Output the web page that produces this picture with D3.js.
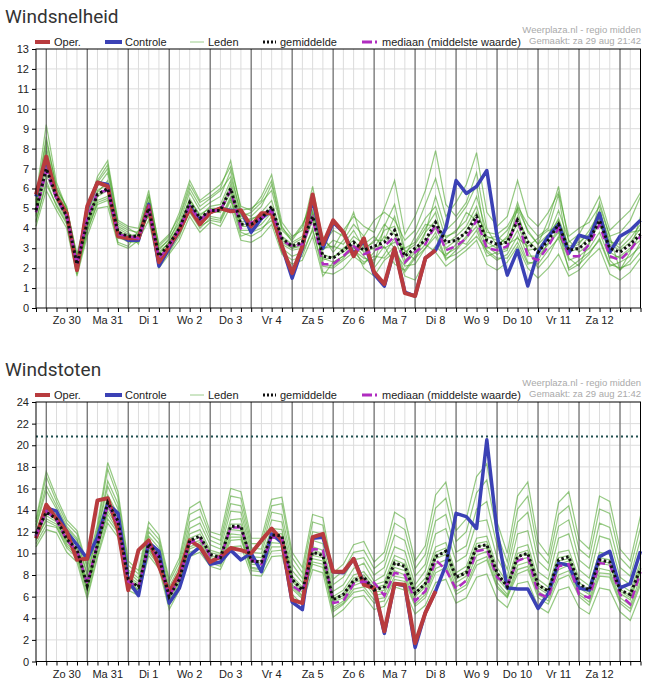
<!DOCTYPE html>
<html><head><meta charset="utf-8">
<script src="https://cdn.jsdelivr.net/npm/d3@7"></script>
<style>body{margin:0;background:#fff;font-family:Arial,"Liberation Sans",sans-serif;}</style>
</head><body><svg id="c" width="651" height="686"></svg>
<script>
// day labels (each day starts at 00:00, data every 6 hours from Za 29 18:00)
var dayLabels = ["Zo 30","Ma 31","Di 1","Wo 2","Do 3","Vr 4","Za 5","Zo 6","Ma 7","Di 8","Wo 9","Do 10","Vr 11","Za 12"];

// Windsnelheid (Bft)
var speedOper = [5.7,7.6,5.6,4.75,1.9,5.1,6.3,6.1,3.6,3.5,3.5,5.1,2.3,3.1,3.9,5.0,4.2,4.8,5.0,4.85,4.9,4.1,4.75,4.75,3.1,1.75,3.1,5.7,3.2,4.4,3.8,2.6,3.5,1.8,1.2,3.0,0.75,0.6,2.5,2.9];
var speedControl = [5.6,7.5,5.6,4.7,2.0,5.0,6.3,6.2,3.7,3.4,3.4,5.2,2.1,3.0,3.9,5.1,4.4,4.8,5.0,4.9,4.9,3.8,4.5,4.9,3.1,1.5,3.0,5.5,3.0,4.3,3.8,2.7,3.4,1.7,1.1,3.0,0.8,0.6,2.5,2.9,4.0,6.4,5.75,6.1,6.9,3.6,1.65,2.9,1.1,2.8,3.6,4.2,2.75,3.65,3.5,4.75,2.8,3.6,3.9,4.4];
var speedMean = [4.9,7.0,5.6,4.6,2.2,4.3,5.7,6.0,3.8,3.6,3.6,5.0,2.6,3.2,4.0,5.3,4.5,4.9,4.9,6.0,4.2,4.2,4.5,5.1,3.5,3.1,3.3,4.6,2.6,2.5,2.9,3.3,2.9,3.1,3.3,3.9,2.6,3.0,3.4,4.3,3.3,3.4,3.8,4.6,3.4,3.2,3.3,4.4,3.3,2.8,3.4,4.2,2.9,3.0,3.4,4.4,3.0,2.8,3.2,3.7];
var speedMedian = [4.8,6.9,5.5,4.6,2.2,4.5,5.8,5.9,3.7,3.6,3.5,5.0,2.5,3.1,4.0,5.1,4.4,4.9,4.9,5.9,4.0,4.3,4.5,4.9,3.4,3.1,3.2,4.5,2.2,2.2,2.6,3.1,2.7,2.9,3.1,3.6,2.3,2.8,3.2,4.2,2.9,3.1,3.5,4.4,3.0,2.9,3.1,4.5,2.6,2.4,3.1,4.0,2.6,2.6,3.2,4.2,2.6,2.4,2.9,3.6];
var speedMembers = [
[5.2,8.1,5.9,4.9,2.4,4.6,6.1,6.8,4.1,3.8,3.2,5.4,2.9,3.5,4.3,5.8,4.9,5.3,5.6,6.9,4.6,4.8,5.3,5.9,3.9,3.4,4.1,5.6,3.2,3.9,3.6,4.8,3.1,2.2,4.1,5.2,2.9,2.4,3.8,5.6,3.9,4.4,5.1,6.2,3.1,2.7,2.9,5.1,4.2,3.6,4.0,5.7,2.5,2.1,3.3,5.3,3.6,1.9,2.8,4.6],
[4.3,6.4,5.1,4.2,1.7,3.9,5.2,5.4,3.3,3.1,3.9,4.6,2.2,2.8,3.6,4.9,4.1,4.4,4.3,5.4,3.6,3.8,4.0,4.4,3.0,2.6,2.8,3.9,2.1,2.0,2.4,2.8,2.3,2.6,2.5,3.1,1.8,2.5,3.0,3.6,2.4,2.9,3.5,4.1,2.8,2.4,2.7,3.6,2.3,2.2,2.9,3.5,2.0,2.4,2.8,3.4,2.1,2.3,2.6,3.1],
[5.6,9.2,6.3,5.0,2.6,4.8,6.6,7.4,4.4,4.1,4.0,5.9,3.1,3.6,4.8,6.4,5.4,5.8,6.2,7.1,5.1,4.9,5.6,6.7,4.3,3.6,3.9,6.1,3.4,3.0,3.9,4.6,4.1,3.8,5.0,6.4,3.7,4.6,5.9,7.9,5.2,4.6,5.3,6.8,4.0,3.1,3.6,5.3,3.8,3.2,4.4,6.1,3.3,3.7,4.6,5.6,3.9,4.4,4.9,5.8],
[4.6,6.7,5.4,4.4,1.9,4.0,5.4,5.6,3.5,3.4,3.5,4.7,2.4,3.0,3.8,5.0,4.2,4.6,4.5,5.6,3.8,3.6,3.9,4.6,2.8,2.4,2.6,4.0,1.8,1.7,2.0,2.6,2.2,2.8,3.6,3.0,1.6,1.4,2.4,3.1,2.6,3.2,3.9,4.8,3.6,3.4,3.9,4.9,2.9,2.0,2.6,3.6,2.8,3.0,3.6,4.6,2.4,1.9,2.4,3.3],
[5.0,7.6,5.8,4.8,2.3,4.4,5.9,6.2,3.9,3.6,3.7,5.2,2.7,3.3,4.1,5.5,4.6,5.1,5.2,6.4,4.5,4.4,4.8,5.4,3.6,3.2,3.5,4.9,2.9,3.4,3.2,3.9,3.0,3.3,4.2,3.7,2.6,3.6,4.5,5.1,3.5,3.9,4.4,5.6,3.8,3.7,4.1,5.0,3.9,3.2,3.7,4.4,3.0,3.2,3.9,4.8,3.4,3.0,3.5,4.2],
[4.1,5.9,4.9,4.0,1.6,3.6,5.0,5.1,3.2,3.0,3.4,4.4,2.0,2.7,3.4,4.6,3.8,4.3,4.1,5.1,3.4,3.3,3.6,4.2,2.7,2.2,2.4,3.6,1.6,2.3,2.6,2.9,2.5,2.4,3.1,2.2,1.9,2.6,3.2,2.8,2.1,2.5,2.9,3.4,2.2,1.9,2.3,3.1,2.0,1.5,2.0,2.7,1.6,1.9,2.5,3.0,1.7,1.4,1.8,2.5],
[5.4,8.6,6.0,5.1,2.5,4.7,6.3,7.0,4.2,3.9,3.8,5.6,3.0,3.4,4.5,6.0,5.1,5.5,5.9,6.6,4.8,4.6,5.1,6.2,4.0,3.5,4.2,5.2,3.6,2.8,3.4,4.2,3.6,4.4,4.8,4.4,3.4,3.9,5.2,6.5,4.6,5.3,6.2,7.8,4.8,4.1,4.6,6.4,4.6,4.1,4.8,5.8,3.6,4.0,4.3,5.1,3.6,3.8,4.4,5.6],
[4.4,6.2,5.2,4.3,1.8,3.8,5.3,5.5,3.6,3.3,3.3,4.8,2.3,2.9,3.7,4.8,4.0,4.5,4.4,5.5,3.9,3.9,4.2,4.8,3.2,2.9,3.0,4.4,2.4,2.6,2.8,3.2,2.6,2.0,2.7,3.5,2.2,2.8,3.4,4.0,3.0,3.4,3.2,3.9,2.6,2.8,3.0,3.9,2.6,2.6,3.2,3.8,2.4,2.6,3.0,3.8,2.5,2.6,3.0,3.4],
[5.1,7.9,5.7,4.7,2.1,4.2,5.8,6.4,4.0,3.7,3.6,5.3,2.8,3.3,4.2,5.4,4.7,5.0,5.0,6.2,4.3,4.5,4.6,5.0,3.4,3.0,3.1,4.7,2.7,2.5,3.0,3.4,2.8,3.0,3.9,4.1,2.4,2.9,3.8,4.4,3.2,3.6,4.1,5.1,3.3,3.0,3.4,4.6,3.4,2.9,3.5,4.5,3.1,3.3,3.7,4.9,3.2,2.9,3.3,4.0],
[4.7,7.1,5.5,4.5,2.0,4.1,5.6,5.9,3.7,3.5,3.6,5.0,2.5,3.1,3.9,5.2,4.4,4.8,4.8,5.8,4.1,4.1,4.4,5.1,3.3,3.0,3.2,4.5,2.5,2.3,2.6,3.0,2.9,3.4,3.4,4.6,2.8,3.2,4.0,4.8,2.7,3.0,3.6,4.4,3.0,3.2,3.5,4.2,2.9,3.0,3.6,4.9,3.4,2.8,3.2,4.5,2.8,2.5,2.9,3.7],
[4.9,7.3,5.6,4.6,2.2,4.3,5.7,6.0,3.8,3.6,3.5,5.1,2.6,3.2,4.0,5.3,4.5,4.9,4.9,6.0,4.2,4.2,4.5,5.0,3.5,3.1,3.3,4.8,3.0,3.1,2.9,3.6,3.2,3.6,3.0,3.3,3.0,3.3,4.2,4.1,3.6,3.8,4.8,4.4,3.5,3.6,3.2,3.5,3.1,3.5,3.9,4.0,2.7,3.5,3.6,4.1,3.3,3.2,3.8,3.9],
[5.3,8.4,6.1,5.0,2.7,4.9,6.4,7.2,4.3,4.0,3.7,5.7,3.2,3.7,4.6,6.2,5.3,5.6,6.0,7.4,4.9,5.0,5.4,6.4,4.1,3.3,3.6,5.4,2.2,2.1,2.5,3.1,2.0,1.6,2.4,2.8,2.1,2.2,3.0,3.8,2.5,2.7,3.1,3.6,2.9,2.5,2.5,3.3,2.2,2.4,3.3,3.9,1.9,2.2,2.7,3.5,2.2,2.0,2.2,2.8]
];

// Windstoten (m/s)
var gustOper = [11.4,14.5,13.2,12.0,9.4,9.5,14.9,15.1,12.2,6.6,10.3,11.2,8.8,6.4,8.2,11.2,10.6,9.2,9.7,10.5,10.3,10.0,11.2,12.3,11.2,5.7,5.4,11.5,11.8,8.3,8.3,9.5,7.1,6.8,2.8,7.2,7.1,1.7,4.5,6.5];
var gustControl = [11.6,14.2,13.9,12.0,10.8,9.5,11.5,14.6,13.7,7.5,6.1,11.0,10.2,5.4,6.8,9.8,10.6,9.0,9.2,10.3,9.4,10.0,8.3,11.8,11.0,5.5,4.8,11.4,11.5,8.3,8.2,9.5,7.3,6.8,2.6,7.2,7.0,1.3,4.5,6.5,8.9,13.7,13.4,12.3,20.5,12.0,6.8,6.7,6.7,4.9,6.3,9.1,8.9,6.8,6.6,9.7,10.2,6.8,7.2,10.2];
var gustMean = [11.8,13.8,13.2,11.3,10.4,7.0,10.8,14.7,13.0,7.6,6.9,10.9,9.7,6.0,7.6,11.2,11.6,9.9,9.6,12.5,12.5,9.3,9.2,11.7,11.6,7.6,6.6,10.1,9.8,5.7,6.2,7.5,7.8,6.6,6.9,9.1,8.8,6.3,7.2,9.7,10.2,7.8,8.2,10.6,10.8,8.2,6.9,9.7,10.0,7.1,6.5,9.4,9.7,7.2,6.6,9.4,9.2,6.6,6.2,8.6];
var gustMedian = [11.6,13.9,13.1,11.2,10.3,7.2,10.9,14.5,12.8,7.4,6.9,10.8,9.6,6.0,7.7,11.0,11.4,9.8,9.6,12.4,12.4,9.4,9.0,11.5,11.4,7.0,6.4,10.4,10.3,5.4,5.6,7.2,7.4,7.3,6.1,8.2,8.0,5.6,6.5,9.4,8.5,6.7,7.5,10.2,10.4,7.8,7.1,9.3,9.7,6.3,5.9,8.8,9.0,6.2,5.9,9.1,9.0,6.2,5.3,8.3];
var gustMax = 20.8;
var gustMembers = [
[12.4,15.8,14.1,12.3,11.2,7.9,11.8,16.2,14.1,8.3,7.4,11.6,10.5,6.6,8.4,12.3,12.8,10.8,10.4,13.9,13.8,10.1,10.0,13.1,12.9,8.4,7.3,11.2,10.9,6.5,7.1,8.6,9.1,7.4,8.0,10.6,10.2,7.1,8.4,11.8,12.3,9.2,9.8,12.9,13.1,9.6,7.8,11.8,12.1,8.3,7.6,11.4,11.8,8.5,7.7,11.6,11.3,7.8,7.1,10.2],
[10.9,12.6,12.4,10.5,9.6,6.1,9.9,13.2,11.9,6.9,6.4,10.1,8.9,5.2,6.9,10.1,10.5,9.1,8.8,11.2,11.3,8.4,8.3,10.2,10.3,6.7,5.8,9.0,8.7,4.6,5.3,6.4,6.6,5.4,5.6,7.6,7.4,5.1,5.9,8.2,8.7,6.2,6.8,8.9,9.4,6.8,5.9,8.1,8.5,5.9,5.3,7.6,8.0,6.0,5.2,7.9,7.8,5.4,4.6,7.1],
[12.9,17.1,14.8,12.8,11.8,8.6,12.3,17.8,15.2,8.9,8.1,12.4,11.3,7.3,9.2,13.6,14.1,11.6,11.2,15.3,15.1,10.9,10.9,14.4,14.6,9.6,8.2,12.9,12.6,7.6,8.4,10.1,10.3,8.6,9.4,12.8,12.2,8.6,9.9,14.2,15.1,11.1,12.0,15.6,16.8,11.8,9.2,14.1,15.3,10.2,9.1,13.6,14.4,10.4,9.6,14.1,13.7,9.6,8.6,12.4],
[11.2,13.2,12.7,10.9,10.0,6.5,10.3,13.9,12.4,7.1,6.6,10.4,9.2,5.6,7.2,10.6,11.0,9.4,9.1,11.8,11.7,8.7,8.6,11.0,10.9,7.1,6.1,9.5,9.3,5.0,5.6,7.0,7.4,6.1,6.3,8.4,8.0,5.6,6.5,9.0,9.4,6.9,7.5,9.8,10.2,7.3,6.2,8.9,9.2,6.5,5.9,8.5,8.9,6.4,5.8,8.6,8.4,5.9,5.2,7.8],
[12.1,14.6,13.6,11.7,10.8,7.4,11.3,15.4,13.6,7.9,7.2,11.2,10.1,6.3,8.0,11.8,12.2,10.3,10.0,13.1,13.2,9.7,9.6,12.3,12.2,7.9,6.9,10.6,10.3,6.0,6.6,8.0,8.3,7.1,7.4,9.8,9.4,6.7,7.7,10.6,11.0,8.2,8.8,11.4,11.6,8.7,7.3,10.5,10.8,7.6,6.9,10.1,10.3,7.7,7.0,10.1,9.9,7.1,6.5,9.2],
[10.6,12.2,11.9,10.1,9.2,5.8,9.6,12.8,11.5,6.6,6.1,9.8,8.6,4.8,6.6,9.7,10.1,8.8,8.5,10.6,10.7,8.0,7.9,9.7,9.8,6.2,5.3,8.5,8.2,4.1,4.8,5.9,6.1,4.8,5.1,6.9,6.6,4.4,5.2,7.3,7.6,5.4,5.9,7.8,8.1,5.8,5.0,7.2,7.4,5.1,4.5,6.6,6.9,5.0,4.4,6.8,6.6,4.6,3.8,6.2],
[12.6,16.3,14.4,12.5,11.4,8.1,12.0,16.7,14.6,8.5,7.7,12.0,10.9,6.9,8.8,12.9,13.4,11.2,10.8,14.6,14.4,10.5,10.4,13.8,13.6,9.0,7.7,12.0,11.8,7.1,7.8,9.4,9.6,8.0,8.7,11.7,11.2,7.9,9.0,13.0,13.6,10.1,10.7,14.1,14.8,10.7,8.5,12.9,13.8,9.3,8.4,12.5,13.1,9.4,8.6,12.8,12.4,8.7,7.9,11.3],
[11.5,13.5,12.9,11.1,10.1,6.8,10.6,14.2,12.7,7.3,6.7,10.6,9.4,5.8,7.4,10.9,11.2,9.6,9.4,12.2,12.1,9.0,8.9,11.4,11.3,7.4,6.4,9.8,9.6,5.5,5.9,7.3,7.6,6.4,6.6,8.7,8.4,6.0,6.9,9.5,9.9,7.3,7.9,10.3,10.5,7.7,6.6,9.4,9.6,6.8,6.2,9.0,9.3,6.8,6.2,9.1,8.9,6.3,5.7,8.3],
[11.9,14.1,13.3,11.4,10.5,7.1,11.0,14.8,13.2,7.7,7.0,11.0,9.8,6.1,7.8,11.4,11.8,10.1,9.8,12.7,12.7,9.4,9.3,11.9,11.8,7.7,6.7,10.3,10.0,5.8,6.3,7.7,8.0,6.8,7.1,9.4,9.0,6.4,7.3,10.1,10.5,7.9,8.4,10.9,11.1,8.3,7.0,10.0,10.3,7.2,6.6,9.6,9.8,7.3,6.6,9.6,9.4,6.7,6.1,8.8],
[11.3,13.0,12.5,10.7,9.8,6.6,10.5,13.6,12.1,7.0,6.6,10.3,9.1,5.5,7.0,10.4,10.8,9.3,9.0,11.5,11.5,8.6,8.5,10.6,10.6,6.9,6.0,9.2,9.0,4.8,5.4,6.7,6.9,5.7,5.9,7.9,7.7,5.3,6.2,8.6,9.0,6.5,7.1,9.3,9.7,7.0,6.0,8.5,8.8,6.2,5.6,8.0,8.4,6.2,5.5,8.2,8.1,5.6,4.9,7.4],
[13.2,17.6,15.2,13.1,12.1,8.9,12.7,18.4,15.7,9.3,8.4,12.9,11.7,7.6,9.6,14.2,14.8,12.0,11.7,16.0,15.7,11.4,11.4,15.0,15.2,10.1,8.7,13.6,13.3,8.2,9.0,10.8,11.1,9.2,10.1,13.8,13.2,9.3,10.7,15.4,16.6,12.1,13.2,17.1,18.3,12.9,10.0,15.3,16.6,11.1,9.8,14.7,15.7,11.3,10.4,15.3,14.8,10.4,9.3,13.5],
[11.7,13.8,13.1,11.2,10.3,7.0,10.8,14.5,12.9,7.5,6.9,10.8,9.6,6.0,7.6,11.1,11.5,9.8,9.6,12.4,12.4,9.2,9.1,11.6,11.5,7.6,6.6,10.1,9.8,5.7,6.1,7.5,7.8,6.6,6.9,9.1,8.7,6.2,7.1,9.8,10.2,7.6,8.2,10.6,10.8,8.0,6.8,9.7,10.0,7.0,6.4,9.3,9.5,7.0,6.4,9.3,9.1,6.5,5.9,8.5]
];

var svg = d3.select("#c");
var nSteps = 60;
var x = d3.scaleLinear().domain([0, nSteps - 1]).range([36, 640.5]);

function drawPanel(cfg) {
    var y = d3.scaleLinear().domain([0, cfg.yMax]).range([cfg.bottom, cfg.top]);
    var g = svg.append("g");

    // title
    g.append("text").attr("x", 5).attr("y", cfg.top - 26).text(cfg.title)
        .attr("font-size", 19).attr("fill", "#333").attr("font-family", "Roboto, Arial, sans-serif");
    g.append("text").attr("x", 641).attr("y", cfg.top - 16).attr("text-anchor", "end")
        .attr("font-size", 9.5).attr("fill", "#aaa").text("Weerplaza.nl - regio midden");
    g.append("text").attr("x", 641).attr("y", cfg.top - 5).attr("text-anchor", "end")
        .attr("font-size", 9.5).attr("fill", "#aaa").text("Gemaakt: za 29 aug 21:42");

    // horizontal grid
    g.selectAll(".hg").data(d3.range(cfg.tickStep, cfg.yMax, cfg.tickStep)).enter().append("line")
        .attr("x1", x(0)).attr("x2", x(nSteps - 1)).attr("y1", d => y(d)).attr("y2", d => y(d))
        .attr("stroke", "#dcdcdc").attr("stroke-width", 1);
    // 6-hour grid
    g.selectAll(".vg").data(d3.range(1, nSteps - 1)).enter().append("line")
        .attr("x1", d => x(d)).attr("x2", d => x(d)).attr("y1", cfg.top).attr("y2", cfg.bottom)
        .attr("stroke", "#dcdcdc").attr("stroke-width", 1);

    // members
    var line = d3.line().x((d, i) => x(i)).y(d => y(d));
    cfg.members.forEach(function(m) {
        g.append("path").attr("d", line(m)).attr("fill", "none")
            .attr("stroke", "#3f9e1e").attr("stroke-opacity", 0.55).attr("stroke-width", 1.2);
    });

    // day lines
    var dayIdx = d3.range(1, nSteps, 4);
    g.selectAll(".dl").data(dayIdx).enter().append("line")
        .attr("x1", d => x(d)).attr("x2", d => x(d)).attr("y1", cfg.top).attr("y2", cfg.bottom)
        .attr("stroke", "#555").attr("stroke-width", 1);

    if (cfg.maxLine) {
        g.append("line").attr("x1", x(0)).attr("x2", x(nSteps - 1))
            .attr("y1", y(cfg.maxLine)).attr("y2", y(cfg.maxLine))
            .attr("stroke", "#1f4f4f").attr("stroke-width", 2).attr("stroke-dasharray", "2,3");
    }

    g.append("path").attr("d", line(cfg.control)).attr("fill", "none")
        .attr("stroke", "#3b41b5").attr("stroke-width", 3.5).attr("stroke-linejoin", "round");
    g.append("path").attr("d", line(cfg.oper)).attr("fill", "none")
        .attr("stroke", "#b83b3e").attr("stroke-width", 4).attr("stroke-linejoin", "round");
    g.append("path").attr("d", line(cfg.median)).attr("fill", "none")
        .attr("stroke", "#b02cc0").attr("stroke-width", 2.5).attr("stroke-dasharray", "8,5");
    g.append("path").attr("d", line(cfg.mean)).attr("fill", "none")
        .attr("stroke", "#111").attr("stroke-width", 3).attr("stroke-dasharray", "2.5,2.5");

    // frame
    g.append("rect").attr("x", x(0)).attr("y", cfg.top).attr("width", x(nSteps - 1) - x(0))
        .attr("height", cfg.bottom - cfg.top).attr("fill", "none").attr("stroke", "#000");

    // y axis
    var yAxis = d3.axisLeft(y).tickValues(d3.range(0, cfg.yMax + 0.01, cfg.tickStep)).tickSize(4);
    var ya = g.append("g").attr("transform", "translate(" + x(0) + ",0)").call(yAxis);
    ya.select(".domain").remove();
    ya.selectAll("text").attr("font-size", 11).attr("fill", "#222").attr("font-family", "Arial, sans-serif");

    // x ticks
    var xAxis = d3.axisBottom(x).tickValues(d3.range(0, nSteps)).tickSize(4).tickFormat("");
    var xa = g.append("g").attr("transform", "translate(0," + cfg.bottom + ")").call(xAxis);
    xa.select(".domain").remove();
    g.selectAll(".dlab").data(dayLabels).enter().append("text")
        .attr("x", (d, i) => (x(1 + 4 * i) + x(5 + 4 * i)) / 2).attr("y", cfg.bottom + 16)
        .attr("text-anchor", "middle").attr("font-size", 11).attr("fill", "#222").text(d => d);

    // legend
    var ly = cfg.top - 7, lg = g.append("g").attr("font-size", 11).attr("fill", "#222");
    lg.append("line").attr("x1", 35).attr("x2", 50).attr("y1", ly).attr("y2", ly).attr("stroke", "#b83b3e").attr("stroke-width", 4);
    lg.append("text").attr("x", 54).attr("y", ly + 4).text("Oper.");
    lg.append("line").attr("x1", 105).attr("x2", 122).attr("y1", ly).attr("y2", ly).attr("stroke", "#3b41b5").attr("stroke-width", 4);
    lg.append("text").attr("x", 125).attr("y", ly + 4).text("Controle");
    lg.append("line").attr("x1", 190).attr("x2", 204).attr("y1", ly).attr("y2", ly).attr("stroke", "#9ccc8c").attr("stroke-width", 1);
    lg.append("text").attr("x", 208).attr("y", ly + 4).text("Leden");
    lg.append("line").attr("x1", 263).attr("x2", 276).attr("y1", ly).attr("y2", ly).attr("stroke", "#111").attr("stroke-width", 3).attr("stroke-dasharray", "2,2");
    lg.append("text").attr("x", 280).attr("y", ly + 4).text("gemiddelde");
    lg.append("line").attr("x1", 362).attr("x2", 378).attr("y1", ly).attr("y2", ly).attr("stroke", "#b02cc0").attr("stroke-width", 3).attr("stroke-dasharray", "10,3,2,3");
    lg.append("text").attr("x", 382).attr("y", ly + 4).text("mediaan (middelste waarde)");
}

drawPanel({title: "Windsnelheid", top: 49, bottom: 308, yMax: 13, tickStep: 1,
    oper: speedOper, control: speedControl, mean: speedMean, median: speedMedian, members: speedMembers});
drawPanel({title: "Windstoten", top: 402, bottom: 661.5, yMax: 24, tickStep: 2, maxLine: gustMax,
    oper: gustOper, control: gustControl, mean: gustMean, median: gustMedian, members: gustMembers});
</script></body></html>
